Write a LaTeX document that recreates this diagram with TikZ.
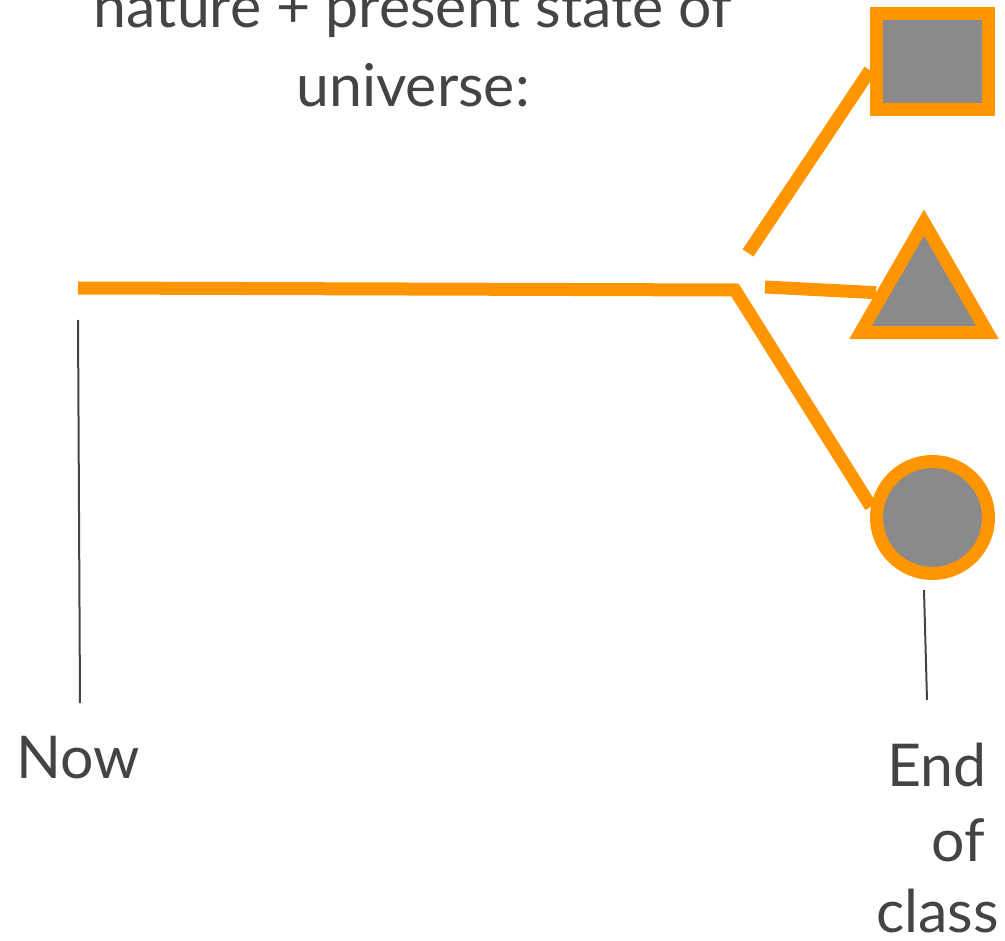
\documentclass[tikz,border=0pt]{standalone}
\usepackage{fontspec}
\setmainfont{Lato}
\usetikzlibrary{shapes.geometric}
\definecolor{branchorange}{RGB}{255,149,0}
\definecolor{markgray}{RGB}{138,138,138}
\definecolor{textgray}{RGB}{68,68,68}

\begin{document}
\begin{tikzpicture}[x=1pt, y=-1pt,
  branch/.style={draw=branchorange, line width=13pt},
  outcome/.style={draw=branchorange, fill=markgray, line width=13pt, inner sep=0pt},
  tickline/.style={draw=textgray, line width=2pt},
  timelabel/.style={text=textgray, font=\fontsize{59}{76}\selectfont, inner sep=0pt}]
  \useasboundingbox (0,0) rectangle (1005,941);
  % heading above the branches
  \node[timelabel, anchor=base] (heading1) at (413,28) {nature + present state of};
  \node[timelabel, anchor=base] (heading2) at (413,107) {universe:};
  % possible outcomes
  \node[outcome, minimum width=112pt, minimum height=96pt] (square) at (932.5,61.5) {};
  \node[outcome, regular polygon, regular polygon sides=3, minimum size=147pt] (triangle) at (924,296) {};
  \node[outcome, circle, minimum size=112pt] (circ) at (932.5,517.5) {};
  % branch points
  \coordinate (start) at (78,288);
  \coordinate (fork) at (735,290);
  \coordinate (midstart) at (765,287);
  \coordinate (topstart) at (748,253);
  \draw[branch] (start) -- (fork) -- (circ.170);
  \draw[branch] (midstart) -- (triangle.176);
  \draw[branch] (topstart) -- (square.188);
  % time ticks
  \coordinate (nowtop) at (78,320);
  \coordinate (nowbot) at (80,703);
  \coordinate (endtop) at (924,590);
  \coordinate (endbot) at (927,700);
  \draw[tickline] (nowtop) -- (nowbot);
  \draw[tickline] (endtop) -- (endbot);
  % time labels
  \node[timelabel, anchor=base] (now) at (78.5,778) {Now};
  \node[timelabel, anchor=base east] (end1) at (987,786) {End};
  \node[timelabel, anchor=base east] (end2) at (985,861) {of};
  \node[timelabel, anchor=base east] (end3) at (999,932) {class};
\end{tikzpicture}
\end{document}
